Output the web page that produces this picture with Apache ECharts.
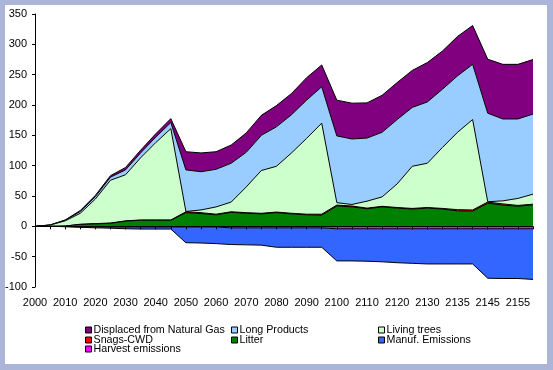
<!DOCTYPE html>
<html>
<head>
<meta charset="utf-8">
<script src="https://cdn.jsdelivr.net/npm/echarts@6/dist/echarts.min.js"></script>
<style>
html,body{margin:0;padding:0;background:#AAB5D7;}
#wrap{position:absolute;left:0;top:0;width:553px;height:370px;background:#AAB5D7;}
#chart{position:absolute;left:5px;top:5px;width:542px;height:359px;background:#fff;}
</style>
</head>
<body>
<div id="wrap"><div id="chart"></div></div>
<script>
const years = ['2000','2005','2010','2015','2020','2025','2030','2035','2040','2045','2050','2055','2060','2065','2070','2075','2080','2085','2090','2095','2100','2105','2110','2115','2120','2125','2130','2132','2135','2140','2145','2150','2155','2160'];
const harvestEmissions = [0,0,-0.5,-1,-1,-1,-1,-1,-1,-1, -1,-1,-1,-2.5,-2.5,-2.5,-2.5,-2.5,-2.5,-2.5, -4,-4,-4,-4,-4,-4,-4,-4,-4,-4, -4,-4,-4,-4];
const manufEmissions = [0,0,0,-0.5,-1.5,-2,-3,-3.5,-3.5,-3.5, -26,-26.5,-27.5,-27.5,-28,-28.5,-32,-32,-32,-32, -53,-53,-53.5,-54.5,-56,-57,-58,-58,-58,-58, -81.5,-82,-82,-83.5];
const litter = [0,0,0.5,3,4,5,8.5,10,10,10, 22.5,21,19,23,21.5,20.5,22.5,20.5,19,18.5, 33.5,32,29,32,30,28.5,30,28.5,25.5,25, 38,35,33,35.5];
const snagsCWD = [0,0,0,0.5,0.5,0.5,0.5,0.5,0.5,0.5, 1.5,1.5,1,1,1,1,1,1,1,1.5, 1.5,1.5,1,1,1,1,1,1,2,2, 2,2,1.5,1];
const livingTrees = [0,2,8.5,18,40.5,70.5,76,102.5,127.5,150.5, 0.5,4.5,12,16,42.5,70.5,75.5,99.5,125,150, 4,2.5,11.5,15.5,39,69.5,73,100.5,127.5,149, 0.5,5,11.5,16.5];
const longProducts = [0,0.2,1,3,4,5,8,8,9,10, 68.5,63,62,64,57,58,65,63,63,60, 110,108,104,106.5,106,97,101,96,93,91, 146,135,131,132];
const displacedNG = [0,0.1,0.5,1.5,2,2.5,4,4.5,5.5,6.5, 30,31,29,30,32,33,35,35,37,36, 59,59,58,61,61,61,65,63,65,64, 89,90,90,90];
const yTicks = {min:-100, max:350, interval:50};

const FONT = '"Liberation Sans", Arial, sans-serif';
const seriesDefs = [
  {name:'Harvest emissions', data:harvestEmissions, color:'#FF00FF'},
  {name:'Manuf. Emissions', data:manufEmissions, color:'#3366FF'},
  {name:'Litter', data:litter, color:'#008000'},
  {name:'Snags-CWD', data:snagsCWD, color:'#FF0000'},
  {name:'Living trees', data:livingTrees, color:'#CCFFCC'},
  {name:'Long Products', data:longProducts, color:'#99CCFF'},
  {name:'Displaced from Natural Gas', data:displacedNG, color:'#800080'}
];
const colorOf = {};
seriesDefs.forEach(s => colorOf[s.name] = s.color);

const legendLayout = [
  ['Displaced from Natural Gas', 80, 319.5],
  ['Long Products', 226, 319.5],
  ['Living trees', 373, 319.5],
  ['Snags-CWD', 80, 329.5],
  ['Litter', 226, 329.5],
  ['Manuf. Emissions', 373, 329.5],
  ['Harvest emissions', 80, 338.5]
];

const chart = echarts.init(document.getElementById('chart'), null, {renderer:'canvas'});
chart.setOption({
  animation: false,
  backgroundColor: '#ffffff',
  grid: {left:30, top:9, width:498, height:273, containLabel:false, outerBoundsMode:'none'},
  legend: legendLayout.map(([name, x, y]) => ({
    left: x, top: y, padding: 0, itemWidth: 6, itemHeight: 6, selectedMode: false,
    data: [{name: name, icon: 'rect', itemStyle: {color: colorOf[name], borderColor: '#000', borderWidth: 1}}],
    textStyle: {fontSize: 10.7, fontFamily: FONT, color: '#000', padding: [0,0,0,-3]}
  })),
  xAxis: {
    type: 'category', data: years, boundaryGap: false, z: 20,
    axisLine: {onZero: true, lineStyle: {color: '#000', width: 1}},
    axisTick: {show: true, interval: 0, length: 3, lineStyle: {color: '#000'}},
    axisLabel: {interval: 1, margin: 10, fontSize: 11, fontFamily: FONT, color: '#000'},
    splitLine: {show: false}
  },
  yAxis: {
    type: 'value', min: yTicks.min, max: yTicks.max, interval: yTicks.interval, z: 20,
    axisLine: {show: true, lineStyle: {color: '#000', width: 1}},
    axisTick: {show: true, length: 3, lineStyle: {color: '#000'}},
    axisLabel: {margin: 8, fontSize: 11, fontFamily: FONT, color: '#000'},
    splitLine: {show: false}
  },
  series: seriesDefs.map((s, i) => ({
    name: s.name, type: 'line', stack: 'total', data: s.data,
    color: s.color, showSymbol: false, symbol: 'none', smooth: false,
    z: 10 - i,
    lineStyle: {color: '#000', width: 1},
    areaStyle: {color: s.color, opacity: 1},
    emphasis: {disabled: true}
  }))
});
</script>
</body>
</html>
